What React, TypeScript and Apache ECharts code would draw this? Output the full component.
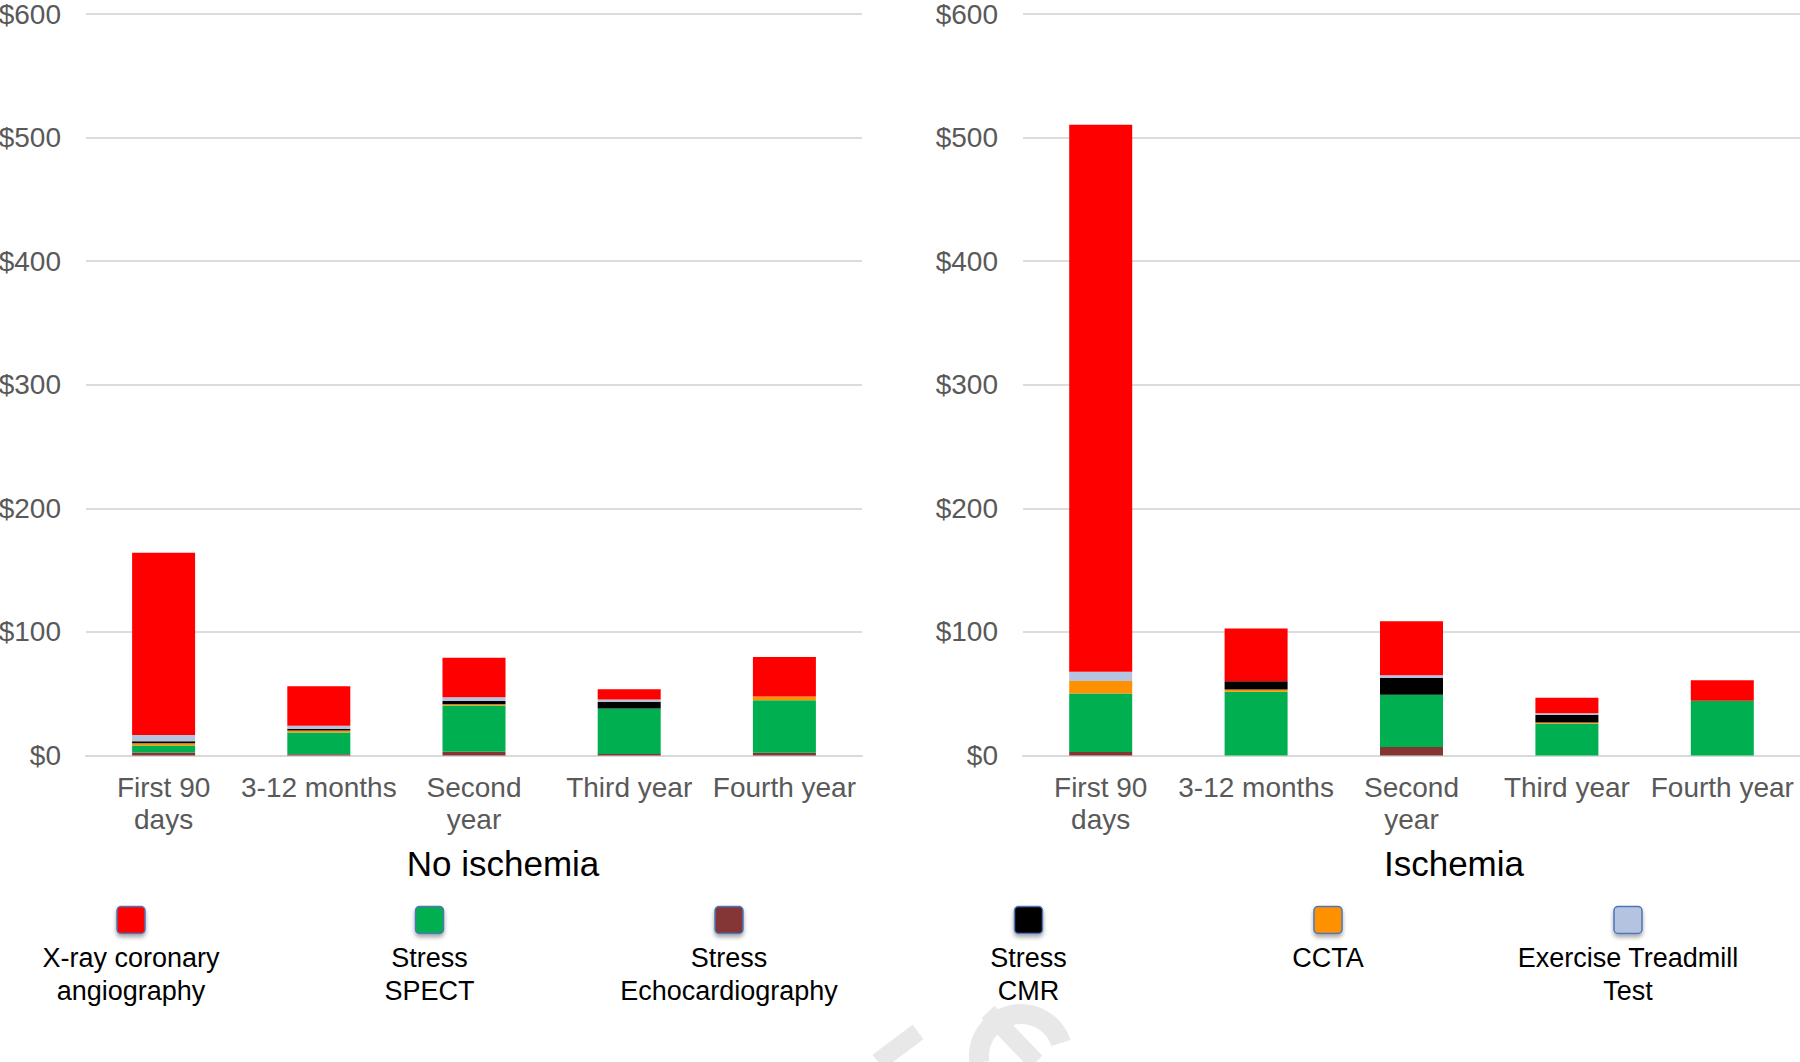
import React, { useEffect, useRef } from "react";
import * as echarts from "echarts";

const categories = ["First 90\ndays", "3-12 months", "Second\nyear", "Third year", "Fourth year"];
const yTicks = [0, 100, 200, 300, 400, 500, 600];

// No ischemia panel (USD per patient)
const noIschEcho = [2.5, 1, 3, 1.3, 2.2];
const noIschSpect = [5.5, 17.7, 37.4, 36.8, 42.5];
const noIschCcta = [2, 1.6, 1, 0, 3];
const noIschCmr = [1.5, 1.3, 2.7, 5.4, 0];
const noIschEtt = [5, 2.4, 3, 1.9, 0];
const noIschXray = [147.5, 32, 32, 8.3, 32];

// Ischemia panel
const ischEcho = [2.8, 0, 6.8, 0, 0];
const ischSpect = [47.4, 51.6, 42.4, 25.7, 44.3];
const ischCcta = [10, 1.9, 0, 1.1, 0];
const ischCmr = [0, 6.5, 13.5, 6.2, 0];
const ischEtt = [7.6, 0, 2.2, 1.1, 0];
const ischXray = [442.6, 42.7, 43.8, 12.7, 16.5];

const panelTitles = ["No ischemia", "Ischemia"];

const legendNames = [
  "X-ray coronary\nangiography",
  "Stress\nSPECT",
  "Stress\nEchocardiography",
  "Stress\nCMR",
  "CCTA",
  "Exercise Treadmill\nTest",
];
const legendColors = ["#FF0000", "#00B050", "#843634", "#000000", "#FF9100", "#B4C4E0"];

const COLORS = {
  xray: "#FF0000",
  spect: "#00B050",
  echo: "#843634",
  cmr: "#000000",
  ccta: "#FF9100",
  ett: "#B4C4E0",
};

export default function App() {
  const ref = useRef<HTMLDivElement>(null);

  useEffect(() => {
    if (!ref.current) return;
    const chart = echarts.init(ref.current, undefined, { renderer: "svg" });

    const gridTop = 14;
    const gridBottom = 1062 - 755.5;
    const grids = [
      { left: 86, right: 1800 - 862, top: gridTop, bottom: gridBottom, containLabel: false, outerBoundsMode: "none" },
      { left: 1023, right: 0, top: gridTop, bottom: gridBottom, containLabel: false, outerBoundsMode: "none" },
    ];

    const mkX = (i: number) => ({
      type: "category",
      gridIndex: i,
      data: categories,
      axisLine: { show: true, lineStyle: { color: "#d9d9d9", width: 2 } },
      axisTick: { show: false },
      axisLabel: {
        interval: 0,
        color: "#595959",
        fontSize: 28,
        lineHeight: 32,
        fontFamily: "Liberation Sans, Arial, sans-serif",
        margin: 16,
      },
    });
    const mkY = (i: number) => ({
      type: "value",
      gridIndex: i,
      min: yTicks[0],
      max: yTicks[yTicks.length - 1],
      interval: 100,
      axisLine: { show: false },
      axisTick: { show: false },
      splitLine: { lineStyle: { color: "#dcdcdc", width: 2 } },
      axisLabel: {
        color: "#595959",
        fontSize: 28,
        fontFamily: "Liberation Sans, Arial, sans-serif",
        margin: 25,
        formatter: (v: number) => "$" + v,
      },
    });

    const panels = [
      [noIschEcho, noIschSpect, noIschCcta, noIschCmr, noIschEtt, noIschXray],
      [ischEcho, ischSpect, ischCcta, ischCmr, ischEtt, ischXray],
    ];
    const order = ["echo", "spect", "ccta", "cmr", "ett", "xray"] as const;
    const names: Record<string, string> = {
      echo: "Stress Echocardiography",
      spect: "Stress SPECT",
      ccta: "CCTA",
      cmr: "Stress CMR",
      ett: "Exercise Treadmill Test",
      xray: "X-ray coronary angiography",
    };

    const series: any[] = [];
    panels.forEach((arrs, pi) => {
      arrs.forEach((data, si) => {
        const key = order[si];
        series.push({
          type: "bar",
          name: names[key],
          xAxisIndex: pi,
          yAxisIndex: pi,
          stack: "p" + pi,
          barWidth: 63,
          data,
          itemStyle: { color: COLORS[key] },
        });
      });
    });

    const legendCenters = [131, 429.5, 729, 1028.5, 1328, 1628];
    const graphics: any[] = [];
    legendCenters.forEach((cx, i) => {
      graphics.push({
        type: "rect",
        shape: { x: cx - 14, y: 906.5, width: 28, height: 27, r: 4 },
        style: {
          fill: legendColors[i],
          stroke: "#4f74b8",
          lineWidth: 1.5,
          shadowBlur: 4,
          shadowOffsetY: 3,
          shadowColor: "rgba(0,0,0,0.35)",
        },
        z: 10,
      });
      graphics.push({
        type: "text",
        x: cx,
        y: 941,
        style: {
          text: legendNames[i],
          fill: "#000000",
          fontSize: 27,
          lineHeight: 33,
          fontFamily: "Liberation Sans, Arial, sans-serif",
          align: "center",
          verticalAlign: "top",
        },
        z: 10,
      });
    });

    const titleCenters = [503, 1454];
    titleCenters.forEach((cx, i) => {
      graphics.push({
        type: "text",
        x: cx,
        y: 863,
        style: {
          text: panelTitles[i],
          fill: "#000000",
          fontSize: 35,
          fontFamily: "Liberation Sans, Arial, sans-serif",
          align: "center",
          verticalAlign: "middle",
        },
        z: 10,
      });
    });

    // faint watermark fragments
    graphics.push({
      type: "arc",
      shape: { cx: 1021, cy: 1056, r: 42, startAngle: Math.PI * 0.95, endAngle: Math.PI * 1.9 },
      style: { stroke: "#e8e8e8", lineWidth: 20, fill: null },
      z: 1,
    });
    graphics.push({
      type: "line",
      shape: { x1: 988, y1: 1012, x2: 1036, y2: 1062 },
      style: { stroke: "#e8e8e8", lineWidth: 18 },
      z: 1,
    });
    graphics.push({
      type: "line",
      shape: { x1: 878, y1: 1062, x2: 918, y2: 1032 },
      style: { stroke: "#e8e8e8", lineWidth: 18 },
      z: 1,
    });

    chart.setOption({
      animation: false,
      backgroundColor: "#ffffff",
      grid: grids,
      xAxis: [mkX(0), mkX(1)],
      yAxis: [mkY(0), mkY(1)],
      series,
      graphic: graphics,
    });

    return () => chart.dispose();
  }, []);

  return (
    <div
      ref={ref}
      style={{ position: "absolute", left: 0, top: 0, width: 1800, height: 1062 }}
    />
  );
}
